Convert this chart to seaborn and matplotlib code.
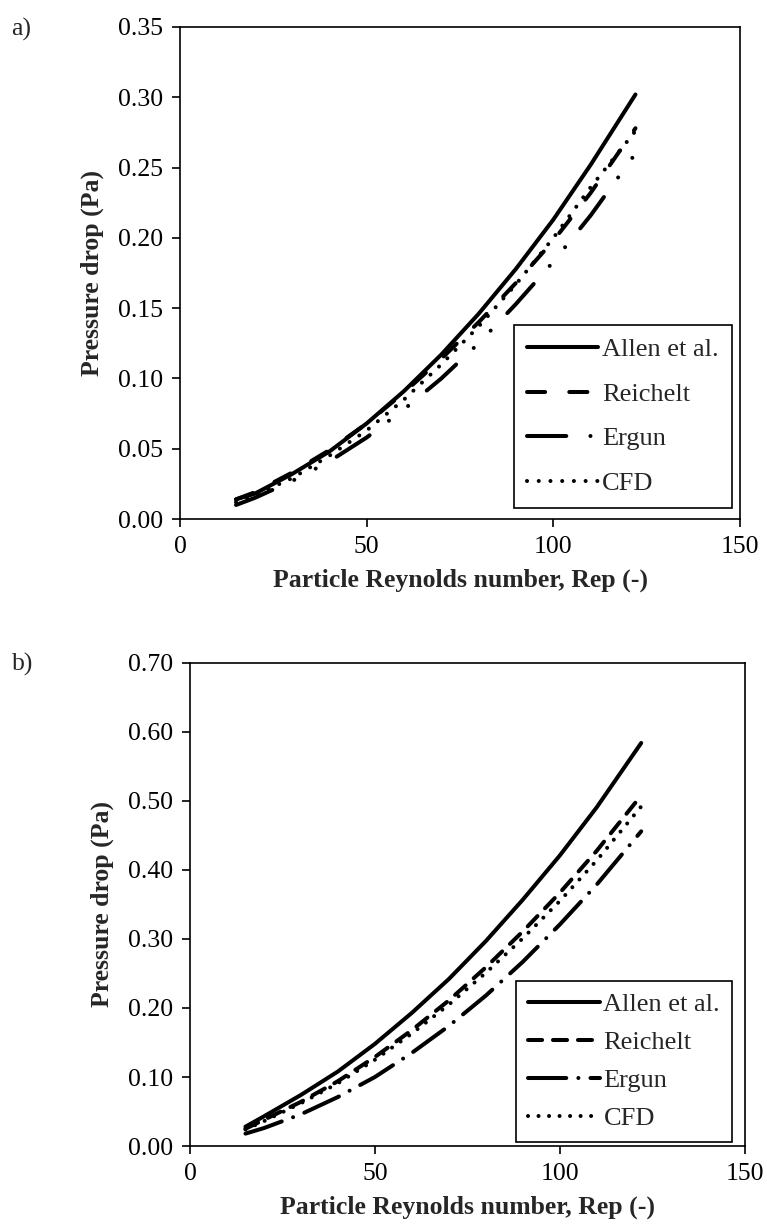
import matplotlib
matplotlib.use("Agg")
import numpy as np
import pandas as pd
import seaborn as sns
import matplotlib.pyplot as plt
from matplotlib.ticker import FormatStrFormatter

# ---------------- data ----------------
re_vals = [15, 20, 30, 40, 50, 60, 70, 80, 90, 100, 110, 122]
series_names = ["Allen et al.", "Reichelt", "Ergun", "CFD"]

# panel a)
a_allen    = [0.014, 0.018, 0.032, 0.048, 0.068, 0.091, 0.117, 0.146, 0.178, 0.213, 0.252, 0.302]
a_reichelt = [0.014, 0.019, 0.033, 0.049, 0.068, 0.090, 0.114, 0.140, 0.168, 0.198, 0.232, 0.278]
a_ergun    = [0.010, 0.015, 0.027, 0.041, 0.058, 0.078, 0.100, 0.125, 0.153, 0.183, 0.216, 0.260]
a_cfd      = [0.012, 0.017, 0.029, 0.045, 0.063, 0.085, 0.110, 0.137, 0.167, 0.200, 0.236, 0.276]

# panel b)
b_allen    = [0.028, 0.043, 0.074, 0.108, 0.148, 0.193, 0.242, 0.297, 0.357, 0.421, 0.491, 0.584]
b_reichelt = [0.025, 0.038, 0.064, 0.094, 0.129, 0.168, 0.211, 0.259, 0.311, 0.367, 0.428, 0.508]
b_ergun    = [0.018, 0.026, 0.046, 0.071, 0.100, 0.135, 0.174, 0.218, 0.267, 0.321, 0.379, 0.456]
b_cfd      = [0.024, 0.036, 0.062, 0.091, 0.125, 0.163, 0.205, 0.251, 0.301, 0.355, 0.414, 0.492]

a_yticks = [0.00, 0.05, 0.10, 0.15, 0.20, 0.25, 0.30, 0.35]
b_yticks = [0.00, 0.10, 0.20, 0.30, 0.40, 0.50, 0.60, 0.70]
x_ticks = [0, 50, 100, 150]

# ---------------- style ----------------
sns.set_style("ticks")
plt.rcParams['font.family'] = ['Liberation Serif', 'DejaVu Serif']
plt.rcParams['axes.linewidth'] = 1.2

LW = 2.9
FS = 18.5
LFS = 19

styles_a = {
    "Allen et al.": "-",
    "Reichelt": (0, (4.5, 6.0)),
    "Ergun": (0, (9.75, 6.0, 0.01, 6.0, 0.01, 6.0)),
    "CFD": (0, (0.01, 2.9)),
}
styles_b = {
    "Allen et al.": "-",
    "Reichelt": (0, (3.5, 2.7)),
    "Ergun": (0, (9.5, 3.0, 0.01, 3.0)),
    "CFD": (0, (0.01, 2.6)),
}


def make_df(vals):
    rows = []
    for name, ys in zip(series_names, vals):
        for x, y in zip(re_vals, ys):
            rows.append({"Re": x, "dp": y, "series": name})
    return pd.DataFrame(rows)


def draw(ax, df, styles, ymax, yticks, legend_kw):
    for name in series_names:
        sub = df[df["series"] == name]
        sns.lineplot(data=sub, x="Re", y="dp", ax=ax, color="black",
                     linewidth=LW, label=name, estimator=None, sort=True)
        line = ax.get_lines()[-1]
        line.set_linestyle(styles[name])
        line.set_dash_capstyle("round")
        line.set_solid_capstyle("round")
    ax.set_xlim(0, 150)
    ax.set_ylim(0, ymax)
    ax.set_xticks(x_ticks)
    ax.set_yticks(yticks)
    ax.yaxis.set_major_formatter(FormatStrFormatter("%.2f"))
    ax.tick_params(direction="out", length=6, width=1.2, labelsize=FS,
                   colors="black", pad=6)
    for s in ax.spines.values():
        s.set_visible(True)
        s.set_color("black")
    ax.set_xlabel("Particle Reynolds number, Rep (-)", fontsize=FS,
                  fontweight="bold", labelpad=8)
    ax.set_ylabel("Pressure drop (Pa)", fontsize=FS, fontweight="bold",
                  labelpad=10)
    leg = ax.legend(loc="lower right", fontsize=LFS, frameon=True,
                    fancybox=False, edgecolor="black", framealpha=1,
                    handlelength=2.7, handletextpad=0.15, borderaxespad=0.0,
                    **legend_kw)
    leg.get_frame().set_linewidth(1.2)
    for h in leg.get_lines():
        h.set_dash_capstyle("round")
        h.set_solid_capstyle("round")


fig = plt.figure(figsize=(7.67, 12.27), dpi=100)
ax1 = fig.add_axes([0.2347, 0.577, 0.7301, 0.401])
ax2 = fig.add_axes([0.2477, 0.066, 0.7233, 0.3937])

draw(ax1, make_df([a_allen, a_reichelt, a_ergun, a_cfd]), styles_a, 0.35,
     a_yticks, {"labelspacing": 0.8, "borderpad": 0.5,
                "bbox_to_anchor": (0.986, 0.022)})
draw(ax2, make_df([b_allen, b_reichelt, b_ergun, b_cfd]), styles_b, 0.70,
     b_yticks, {"labelspacing": 0.55, "borderpad": 0.45,
                "bbox_to_anchor": (0.977, 0.008)})

fig.text(0.015, 0.985, "a)", fontsize=FS, va="top", ha="left")
fig.text(0.015, 0.468, "b)", fontsize=FS, va="top", ha="left")

fig.savefig("out.png", dpi=100, facecolor="white")
